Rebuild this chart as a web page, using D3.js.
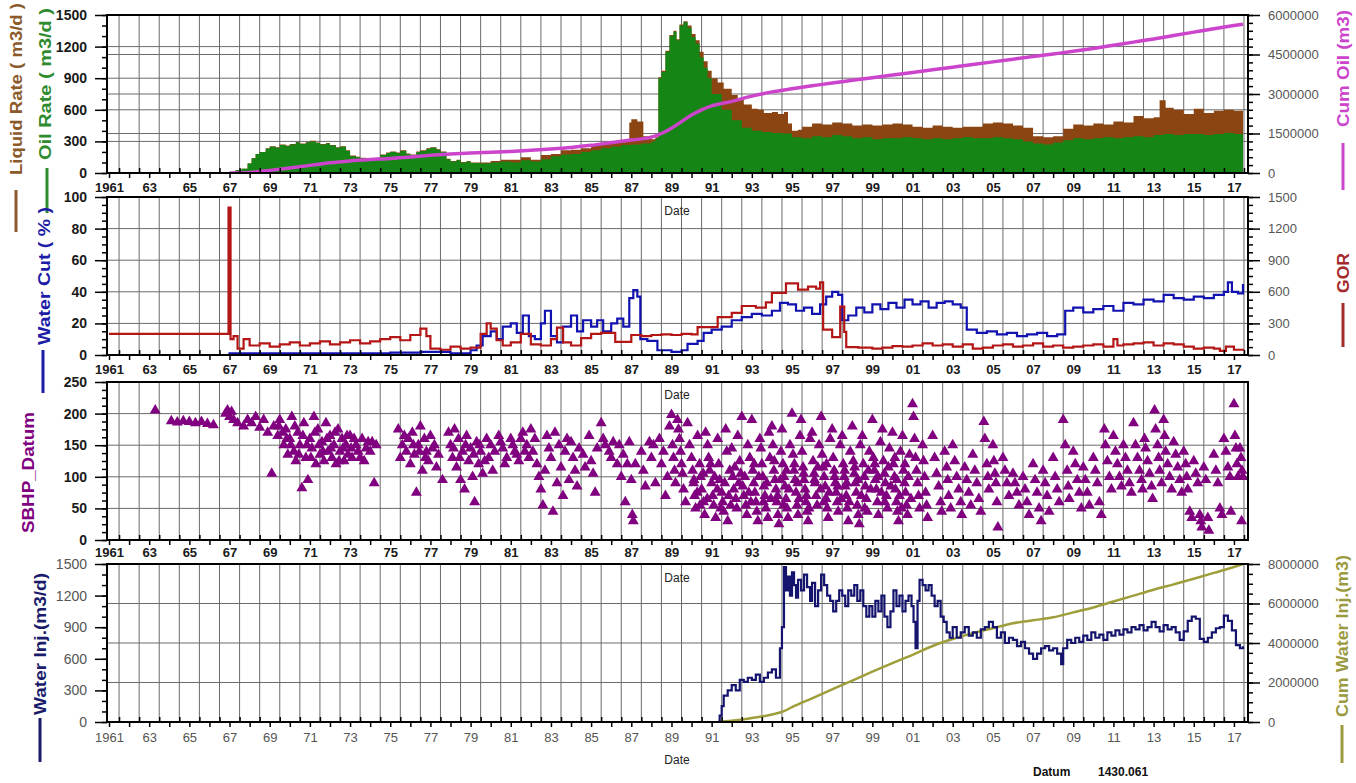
<!DOCTYPE html>
<html>
<head>
<meta charset="utf-8">
<script src="https://cdn.jsdelivr.net/npm/d3@7"></script>
<style>
  body { margin: 0; background: #fff; }
  svg { display: block; }
  text { font-family: "Liberation Sans", Arial, sans-serif; }
</style>
</head>
<body>
<svg id="chart" width="1356" height="783"></svg>
<script>
// ---------- data: [decimal year, value] ----------
const liquidRate = [
  [1966.9,0],[1967.0,10],[1967.3,25],[1967.6,40],[1967.9,90],[1968.1,140],[1968.3,180],[1968.5,200],[1968.8,235],
  [1969.0,255],[1969.3,245],[1969.5,270],[1969.8,260],[1970.0,275],[1970.3,295],[1970.5,280],[1970.8,295],
  [1971.0,305],[1971.3,290],[1971.5,275],[1971.8,285],[1972.0,265],[1972.3,245],[1972.5,255],[1972.8,215],
  [1973.0,165],[1973.3,155],[1973.5,145],[1973.8,135],[1974.0,125],[1974.3,145],[1974.5,175],[1974.8,195],
  [1975.0,205],[1975.3,195],[1975.5,215],[1975.8,185],[1976.0,175],[1976.3,205],[1976.5,215],[1976.8,235],
  [1977.0,245],[1977.3,225],[1977.5,205],[1977.8,135],[1978.0,115],[1978.3,125],[1978.5,105],[1978.8,115],
  [1979.0,100],[1979.5,100],[1980.0,115],[1980.5,125],[1981.0,125],[1981.5,150],[1982.0,125],[1982.5,170],
  [1983.0,180],[1983.5,215],[1984.0,220],[1984.5,235],[1985.0,260],[1985.5,285],[1986.0,300],[1986.5,310],
  [1986.9,480],[1987.0,510],[1987.3,490],[1987.6,350],[1988.0,320],[1988.2,340],[1988.35,910],[1988.5,970],
  [1988.7,1160],[1988.9,1310],[1989.1,1350],[1989.25,1270],[1989.4,1410],[1989.6,1440],[1989.8,1400],
  [1990.0,1320],[1990.2,1260],[1990.4,1150],[1990.6,1060],[1990.8,970],[1991.0,900],[1991.3,860],[1991.6,800],
  [1992.0,740],[1992.3,700],[1992.6,650],[1993.0,610],[1993.3,600],[1993.6,570],[1994.0,580],[1994.3,560],
  [1994.6,580],[1994.8,470],[1995.0,400],[1995.3,410],[1995.5,440],[1996.0,470],[1996.5,460],[1997.0,480],
  [1997.5,470],[1998.0,450],[1998.5,460],[1999.0,450],[1999.5,460],[2000.0,470],[2000.5,460],[2001.0,440],
  [2001.5,430],[2002.0,450],[2002.5,440],[2003.0,430],[2003.5,440],[2004.0,440],[2004.5,470],[2005.0,480],
  [2005.5,470],[2006.0,450],[2006.5,430],[2007.0,350],[2007.5,340],[2008.0,350],[2008.5,420],[2009.0,460],
  [2009.5,450],[2010.0,470],[2010.5,460],[2011.0,490],[2011.5,480],[2012.0,540],[2012.5,520],[2013.0,530],
  [2013.3,690],[2013.6,620],[2014.0,600],[2014.5,560],[2015.0,610],[2015.5,570],[2016.0,590],[2016.5,600],
  [2017.0,590],[2017.45,580]
];
const oilRate = [
  [1966.9,0],[1967.0,10],[1967.3,25],[1967.6,40],[1967.9,90],[1968.1,140],[1968.3,180],[1968.5,200],[1968.8,230],
  [1969.0,250],[1969.3,240],[1969.5,265],[1969.8,255],[1970.0,270],[1970.3,290],[1970.5,275],[1970.8,290],
  [1971.0,300],[1971.3,285],[1971.5,270],[1971.8,280],[1972.0,260],[1972.3,240],[1972.5,250],[1972.8,210],
  [1973.0,160],[1973.3,150],[1973.5,140],[1973.8,130],[1974.0,120],[1974.3,140],[1974.5,170],[1974.8,190],
  [1975.0,200],[1975.3,190],[1975.5,210],[1975.8,180],[1976.0,170],[1976.3,200],[1976.5,210],[1976.8,230],
  [1977.0,240],[1977.3,220],[1977.5,200],[1977.8,130],[1978.0,110],[1978.3,120],[1978.5,100],[1978.8,110],
  [1979.0,95],[1979.5,90],[1980.0,100],[1980.5,110],[1981.0,100],[1981.5,120],[1982.0,110],[1982.5,130],
  [1983.0,160],[1983.5,175],[1984.0,180],[1984.5,200],[1985.0,215],[1985.5,235],[1986.0,250],[1986.5,265],
  [1987.0,270],[1987.5,280],[1988.0,300],[1988.2,330],[1988.35,900],[1988.5,960],[1988.7,1150],[1988.9,1300],
  [1989.1,1340],[1989.25,1260],[1989.4,1400],[1989.6,1430],[1989.8,1380],[1990.0,1290],[1990.2,1230],
  [1990.4,1100],[1990.6,1000],[1990.8,900],[1991.0,750],[1991.5,600],[1992.0,500],[1992.5,430],[1993.0,400],
  [1993.5,390],[1994.0,380],[1994.5,375],[1995.0,340],[1995.5,330],[1996.0,350],[1996.5,340],[1997.0,360],
  [1997.5,350],[1998.0,330],[1998.5,340],[1999.0,320],[1999.5,330],[2000.0,330],[2000.5,340],[2001.0,330],
  [2001.5,320],[2002.0,330],[2002.5,320],[2003.0,330],[2003.5,340],[2004.0,330],[2004.5,330],[2005.0,340],
  [2005.5,330],[2006.0,320],[2006.5,300],[2007.0,280],[2007.5,270],[2008.0,290],[2008.5,310],[2009.0,330],
  [2009.5,320],[2010.0,330],[2010.5,340],[2011.0,330],[2011.5,340],[2012.0,350],[2012.5,340],[2013.0,360],
  [2013.5,370],[2014.0,360],[2014.5,370],[2015.0,370],[2015.5,360],[2016.0,370],[2016.5,380],[2017.0,370],
  [2017.45,360]
];
const cumOil = [
  [1967.0,0],[1968,20000],[1969,100000],[1970,190000],[1971,290000],[1972,390000],[1973,460000],[1974,510000],
  [1975,550000],[1976,610000],[1977,670000],[1978,720000],[1979,760000],[1980,790000],[1981,820000],
  [1982,860000],[1983,910000],[1984,970000],[1985,1050000],[1986,1150000],[1987,1250000],[1988,1360000],
  [1988.5,1500000],[1989,1700000],[1989.5,1950000],[1990,2200000],[1990.5,2400000],[1991,2550000],
  [1992,2720000],[1993,2920000],[1994,3080000],[1995,3200000],[1996,3310000],[1997,3420000],[1998,3520000],
  [1999,3620000],[2000,3720000],[2001,3820000],[2002,3920000],[2003,4020000],[2004,4120000],[2005,4220000],
  [2006,4320000],[2007,4420000],[2008,4520000],[2009,4620000],[2010,4730000],[2011,4850000],[2012,4970000],
  [2013,5090000],[2014,5220000],[2015,5350000],[2016,5480000],[2017,5600000],[2017.45,5650000]
];
const waterCut = [
  [1961.0,0],[1967.0,1],[1970,1],[1975,1.5],[1976.5,2],[1978,1],[1979,3],[1979.3,6],[1979.6,12],[1980.0,15],
  [1980.3,10],[1980.6,18],[1981.0,20],[1981.3,14],[1981.6,25],[1981.9,12],[1982.2,10],[1982.5,20],[1982.7,28],
  [1983.0,12],[1983.3,8],[1983.6,18],[1984.0,25],[1984.3,15],[1984.6,22],[1985.0,18],[1985.3,22],[1985.6,15],
  [1986.0,20],[1986.3,23],[1986.6,18],[1986.9,36],[1987.1,41],[1987.3,37],[1987.45,10],[1987.8,9],[1988.3,3],
  [1989.0,2],[1989.5,3],[1989.8,7],[1990.3,9],[1990.6,14],[1991.0,16],[1991.5,18],[1992.0,22],[1992.5,24],
  [1993.0,26],[1993.5,25],[1994.0,28],[1994.4,33],[1994.8,32],[1995.2,28],[1995.6,30],[1996.0,26],[1996.4,32],
  [1996.7,37],[1997.0,40],[1997.3,38],[1997.5,22],[1997.8,25],[1998.2,30],[1998.6,27],[1999.0,32],[1999.4,29],
  [1999.8,33],[2000.2,30],[2000.6,35],[2001.0,32],[2001.4,34],[2001.8,30],[2002.2,33],[2002.6,34],[2003.0,32],
  [2003.4,30],[2003.7,16],[2004.2,14],[2004.7,15],[2005.2,13],[2005.7,14],[2006.2,12],[2006.7,13],[2007.2,14],
  [2007.7,12],[2008.2,13],[2008.6,28],[2009.0,30],[2009.5,27],[2010.0,29],[2010.5,31],[2011.0,28],[2011.5,33],
  [2012.0,32],[2012.5,35],[2013.0,34],[2013.5,38],[2014.0,36],[2014.5,35],[2015.0,37],[2015.5,36],[2016.0,38],
  [2016.5,40],[2016.7,46],[2016.9,40],[2017.2,39],[2017.45,45]
];
const gor = [
  [1961.0,200],[1966.85,200],[1966.95,1400],[1967.05,150],[1967.2,180],[1967.4,60],[1967.7,150],[1968.0,90],
  [1968.5,110],[1969,80],[1969.5,100],[1970,120],[1970.5,90],[1971,110],[1971.5,130],[1972,100],[1972.5,120],
  [1973,140],[1973.5,110],[1974,130],[1974.5,150],[1975,170],[1975.5,140],[1976,190],[1976.5,250],[1976.8,180],
  [1977.0,60],[1977.5,50],[1978,80],[1978.5,60],[1979,70],[1979.5,200],[1979.8,300],[1980.0,250],[1980.3,140],
  [1980.6,90],[1981,120],[1981.5,200],[1982,100],[1982.5,90],[1983,150],[1983.3,260],[1983.6,120],[1984,90],
  [1984.5,160],[1985,200],[1985.5,210],[1986.2,125],[1987.0,190],[1987.5,180],[1988,190],[1988.5,195],
  [1989,190],[1989.5,200],[1990,195],[1990.3,265],[1991.3,360],[1992.0,400],[1992.5,465],[1993.2,450],
  [1993.7,500],[1994.0,590],[1994.7,680],[1995.3,620],[1995.8,650],[1996.2,630],[1996.4,690],[1996.55,240],
  [1997.0,170],[1997.4,460],[1997.6,220],[1997.7,75],[1998.3,70],[1999,60],[1999.5,70],[2000,85],[2000.5,80],
  [2001,90],[2001.5,110],[2002,90],[2002.5,100],[2003,80],[2003.5,100],[2004,60],[2004.5,70],[2005,90],
  [2005.5,100],[2006,80],[2006.5,90],[2007,110],[2007.5,80],[2008,90],[2008.5,70],[2009,80],[2009.5,90],
  [2010,100],[2010.5,80],[2011,150],[2011.2,90],[2011.5,100],[2012,110],[2012.5,120],[2013,90],[2013.5,110],
  [2014,100],[2014.5,80],[2015,60],[2015.5,70],[2016,60],[2016.3,40],[2016.6,80],[2017.0,50],[2017.45,60]
];
const sbhp = [
  [1963.3,205],[1964.1,188],[1964.4,186],[1964.7,188],[1965.0,187],[1965.3,185],[1965.6,187],[1965.9,184],[1966.2,182],
  [1966.8,200],[1966.9,205],[1967.0,195],[1967.1,203],[1967.2,190],[1967.4,185],[1967.7,180],[1967.9,190],[1968.1,185],
  [1968.3,195],[1968.5,178],[1968.7,190],[1968.9,170],[1969.1,105],[1969.2,180],[1969.4,165],[1969.5,190],[1969.7,150],
  [1969.8,175],[1969.9,135],[1970.0,160],[1970.1,195],[1970.2,140],[1970.3,125],[1970.4,170],[1970.5,150],[1970.6,82],
  [1970.7,185],[1970.8,130],[1970.9,95],[1971.0,160],[1971.1,145],[1971.2,195],[1971.3,120],[1971.4,175],[1971.5,135],
  [1971.6,155],[1971.7,125],[1971.8,185],[1971.9,140],[1972.0,165],[1972.1,130],[1972.2,150],[1972.3,120],[1972.4,175],
  [1972.5,140],[1972.6,160],[1972.7,125],[1972.8,150],[1972.9,135],[1973.0,165],[1973.1,130],[1973.3,150],[1973.4,140],
  [1973.6,160],[1973.7,125],[1973.9,155],[1974.0,140],[1974.2,90],[1974.3,150],
  [1969.45,180],[1969.65,170],[1969.85,160],[1970.05,150],[1970.25,180],[1970.45,135],[1970.65,165],[1970.85,150],
  [1971.05,130],[1971.25,170],[1971.45,150],[1971.65,140],[1971.85,160],[1972.05,145],[1972.25,170],[1972.45,125],
  [1972.65,145],[1972.85,165],[1973.05,145],[1973.2,160],[1973.5,130],[1973.8,145],[1974.1,155],
  [1975.4,175],[1975.5,130],[1975.6,150],[1975.8,140],[1975.9,160],[1976.0,120],[1976.1,170],[1976.2,135],[1976.3,75],
  [1976.4,150],[1976.5,180],[1976.6,110],[1976.7,160],[1976.8,140],[1976.9,125],[1977.0,165],[1977.1,145],[1977.3,115],
  [1977.4,135],[1977.6,95],[1977.9,170],[1978.0,150],[1978.1,130],[1978.2,175],[1978.3,115],[1978.4,160],[1978.5,95],
  [1978.6,140],[1978.7,80],[1978.8,165],[1978.9,125],[1979.0,145],[1979.1,100],[1979.2,60],[1979.3,155],[1979.4,120],
  [1979.5,140],[1979.6,105],[1979.8,160],[1979.9,130],[1980.0,150],[1980.1,110],[1980.4,165],[1980.6,145],[1980.8,130],
  [1975.7,165],[1976.15,150],[1976.45,140],[1976.75,130],[1977.2,150],[1978.15,145],[1978.45,130],[1978.75,150],
  [1979.15,135],[1979.45,150],[1979.7,125],[1980.2,140],[1980.5,155],[1980.7,120],[1981.1,150],[1981.3,135],
  [1981.5,160],[1981.7,140],[1981.9,130],
  [1981.0,160],[1981.2,140],[1981.4,125],[1981.6,170],[1981.8,150],[1982.0,175],[1982.1,140],[1982.2,160],[1982.3,120],
  [1982.4,100],[1982.5,80],[1982.6,55],[1982.7,110],[1982.8,165],[1982.9,145],[1983.0,130],[1983.1,45],[1983.2,170],
  [1983.3,90],[1983.4,150],[1983.5,115],[1983.6,70],[1983.7,140],[1983.8,160],[1983.9,95],[1984.0,155],[1984.1,130],
  [1984.2,110],[1984.3,85],[1984.4,145],[1984.6,135],[1984.7,115],[1984.9,165],[1985.0,125],[1985.1,105],[1985.2,75],
  [1985.3,145],[1985.5,185],[1985.6,160],[1985.7,150],[1985.9,140],[1986.0,130],[1986.1,155],[1986.3,120],[1986.4,150],
  [1986.5,100],[1986.6,135],[1986.7,60],[1986.8,120],[1986.9,155],[1987.0,95],[1987.05,40],[1987.1,30],[1987.2,120],
  [1987.5,140],[1987.6,110],[1987.7,85],[1987.9,155],[1988.0,130],[1988.1,150],[1988.2,90],[1988.4,160],[1988.5,120],
  [1988.6,140],[1988.7,70],[1988.8,100],[1988.9,180],[1989.0,198],[1989.05,150],[1989.1,130],[1989.15,110],[1989.2,90],
  [1989.3,190],[1989.35,175],[1989.4,160],[1989.45,140],[1989.5,120],[1989.55,105],[1989.6,80],[1989.7,60],
  [1989.8,185],[1989.9,150],[1990.0,130],[1990.05,110],[1990.1,90],[1990.15,70],[1990.2,50],[1990.3,165],[1990.4,120],
  [1990.45,100],[1990.5,80],[1990.6,60],[1990.65,40],[1990.7,170],[1990.8,150],[1990.85,130],[1990.9,110],[1991.0,90],
  [1991.05,70],[1991.1,55],[1991.2,35],[1991.3,160],[1991.35,120],[1991.4,95],[1991.5,75],[1991.55,60],[1991.6,45],
  [1991.7,175],[1991.75,140],[1991.8,30],[1991.9,110],[1992.0,145],[1992.05,100],[1992.1,80],[1992.2,65],[1992.25,50],
  [1992.3,165],[1992.4,125],[1992.45,105],[1992.5,195],[1992.55,85],[1992.6,70],[1992.7,55],[1992.75,40],[1992.8,150],
  [1992.9,130],[1993.0,190],[1993.05,110],[1993.1,90],[1993.15,75],[1993.2,60],[1993.25,45],[1993.3,30],[1993.4,160],
  [1993.45,145],[1993.5,120],[1993.55,100],[1993.6,85],[1993.65,70],[1993.7,50],[1993.8,35],[1993.85,170],[1993.9,130],
  [1994.0,180],[1994.05,150],[1994.1,110],[1994.15,95],[1994.2,80],[1994.25,60],[1994.3,40],[1994.35,25],[1994.45,140],
  [1994.5,175],[1994.55,120],[1994.6,100],[1994.65,85],[1994.7,65],[1994.75,50],[1994.8,35],[1994.9,150],[1995.0,200],
  [1995.05,135],[1995.1,110],[1995.15,95],[1995.2,75],[1995.25,55],[1995.3,40],[1995.4,165],[1995.45,190],[1995.5,140],
  [1995.55,115],[1995.6,95],[1995.65,80],[1995.7,60],[1995.75,45],[1995.8,30],[1995.9,160],[1996.0,170],[1996.05,125],
  [1996.1,105],[1996.15,90],[1996.2,70],[1996.25,55],[1996.35,150],[1996.45,195],[1996.5,135],[1996.55,115],[1996.6,100],
  [1996.65,85],[1996.7,65],[1996.75,50],[1996.8,35],[1996.9,160],[1997.0,175],[1997.05,130],[1997.1,110],[1997.15,90],
  [1997.2,75],[1997.25,60],[1997.3,45],[1997.4,150],[1997.5,165],[1997.55,120],[1997.6,100],[1997.65,85],[1997.7,70],
  [1997.75,50],[1997.8,30],[1997.9,140],[1998.0,180],[1998.05,125],[1998.1,105],[1998.15,90],[1998.2,75],[1998.25,55],
  [1998.3,40],[1998.35,25],[1998.4,150],[1998.5,165],[1998.55,120],[1998.6,100],[1998.65,85],[1998.7,65],[1998.75,45],
  [1998.85,140],[1999.0,190],[1999.05,130],[1999.1,110],[1999.15,95],[1999.2,80],[1999.25,60],[1999.3,40],[1999.4,155],
  [1999.5,175],[1999.55,125],[1999.6,105],[1999.65,90],[1999.7,70],[1999.75,50],[1999.85,145],[2000.0,170],[2000.05,120],
  [2000.1,100],[2000.15,80],[2000.2,60],[2000.25,45],[2000.3,30],[2000.4,140],[2000.5,165],[2000.55,110],[2000.6,90],
  [2000.65,75],[2000.7,55],[2000.75,40],[2000.85,135],
  [1990.12,95],[1990.28,75],[1990.42,55],[1990.58,105],[1990.78,65],[1990.95,120],[1991.15,100],[1991.28,80],
  [1991.45,50],[1991.65,90],[1991.85,70],[1991.95,55],[1992.15,115],[1992.35,90],[1992.65,100],[1992.85,75],
  [1992.95,60],[1993.12,120],[1993.35,100],[1993.58,60],[1993.75,90],[1993.95,65],[1994.12,125],[1994.28,70],
  [1994.42,95],[1994.58,55],[1994.72,110],[1994.85,80],[1995.12,120],[1995.28,90],[1995.35,65],[1995.58,105],
  [1995.72,70],[1995.85,50],[1996.12,95],[1996.28,115],[1996.42,80],[1996.58,60],[1996.72,120],[1996.85,75],
  [1997.12,100],[1997.28,85],[1997.45,65],[1997.62,110],[1997.72,90],[1997.85,60],[1998.12,115],[1998.28,95],
  [1998.45,70],[1998.62,50],[1998.8,110],[1998.92,80],[1999.12,120],[1999.28,100],[1999.45,75],[1999.62,60],
  [1999.8,115],[1999.92,85],[2000.12,130],[2000.22,95],[2000.35,70],[2000.45,50],[2000.62,120],[2000.8,100],
  [2000.92,65],
  [2001.0,215],[2001.05,195],[2001.1,160],[2001.15,130],[2001.2,110],[2001.25,90],[2001.3,70],[2001.35,50],[2001.5,150],
  [2001.55,125],[2001.6,100],[2001.65,75],[2001.7,55],[2001.75,35],[2002.0,165],[2002.1,130],[2002.2,105],[2002.3,85],
  [2002.4,60],[2002.45,45],[2002.6,140],[2002.7,115],[2002.75,95],[2002.8,70],[2002.9,50],[2003.0,150],[2003.1,125],
  [2003.2,100],[2003.3,80],[2003.4,60],[2003.45,40],[2003.6,115],[2003.7,95],[2003.8,75],[2003.9,55],[2004.0,135],
  [2004.1,110],[2004.2,90],[2004.3,65],[2004.4,45],[2004.55,187],[2004.6,160],[2004.7,120],[2004.75,100],[2004.8,80],
  [2005.0,150],[2005.05,125],[2005.1,105],[2005.15,90],[2005.2,60],[2005.25,20],[2005.5,130],[2005.6,110],[2005.7,90],
  [2005.8,70],[2006.0,105],[2006.1,90],[2006.2,75],[2006.3,55],[2006.5,100],[2006.6,80],[2006.7,60],[2006.8,40],
  [2007.0,120],[2007.1,95],[2007.2,75],[2007.3,50],[2007.4,30],[2007.5,110],[2007.6,90],[2007.7,70],[2007.8,45],
  [2008.0,130],[2008.1,100],[2008.2,80],[2008.3,60],[2008.5,190],[2008.6,150],[2008.7,110],[2008.75,85],[2008.8,65],
  [2009.0,140],[2009.1,120],[2009.2,95],[2009.3,75],[2009.4,50],[2009.5,115],[2009.6,95],[2009.7,75],[2009.8,55],
  [2010.0,130],[2010.1,110],[2010.2,90],[2010.3,60],[2010.4,40],[2010.55,175],[2010.6,150],[2010.7,125],[2010.8,100],
  [2010.9,80],[2011.0,165],[2011.1,140],[2011.2,120],[2011.3,100],[2011.4,85],[2011.5,150],[2011.6,130],[2011.7,110],
  [2011.8,90],[2011.9,75],[2012.0,185],[2012.1,150],[2012.2,130],[2012.3,110],[2012.4,95],[2012.45,80],[2012.55,160],
  [2012.6,145],[2012.7,125],[2012.8,105],[2012.9,85],[2012.95,65],[2013.05,205],[2013.1,175],[2013.2,150],[2013.25,130],
  [2013.3,110],[2013.4,90],[2013.5,190],[2013.55,165],[2013.6,140],[2013.7,120],[2013.8,100],[2013.9,80],[2014.0,155],
  [2014.1,135],[2014.2,115],[2014.3,95],[2014.4,75],[2014.5,140],[2014.6,120],[2014.65,100],[2014.7,80],[2014.8,45],
  [2014.9,35],[2015.0,125],[2015.1,105],[2015.2,90],[2015.3,40],[2015.35,30],[2015.4,20],[2015.5,115],[2015.6,95],
  [2015.7,35],[2015.75,15],[2016.0,135],[2016.1,110],[2016.2,90],[2016.3,50],[2016.4,40],[2016.5,160],[2016.6,140],
  [2016.7,115],[2016.8,100],[2016.85,45],[2017.0,215],[2017.05,165],[2017.1,145],[2017.15,120],[2017.2,100],
  [2017.3,145],[2017.35,130],[2017.38,30],[2017.4,110],[2017.45,100]
];
const waterInj = [
  [1991.3,0],[1991.4,60],[1991.5,150],[1991.6,250],[1991.8,300],[1992.0,350],[1992.2,300],[1992.4,400],[1992.6,380],
  [1992.8,420],[1993.0,400],[1993.2,450],[1993.4,380],[1993.6,420],[1993.8,470],[1994.0,500],[1994.2,420],[1994.4,700],
  [1994.5,900],[1994.6,1470],[1994.7,1250],[1994.8,1380],[1994.9,1200],[1995.0,1420],[1995.1,1300],[1995.2,1180],
  [1995.3,1350],[1995.45,1250],[1995.6,1400],[1995.75,1280],[1995.9,1150],[1996.0,1320],[1996.15,1100],[1996.3,1250],
  [1996.45,1400],[1996.6,1300],[1996.75,1200],[1996.9,1150],[1997.05,1050],[1997.2,1150],[1997.35,1250],[1997.5,1200],
  [1997.65,1100],[1997.8,1250],[1997.95,1200],[1998.1,1300],[1998.25,1150],[1998.4,1250],[1998.55,1100],[1998.7,1000],
  [1998.85,1100],[1999.0,1000],[1999.15,1150],[1999.3,1050],[1999.45,1200],[1999.6,1000],[1999.75,900],[1999.9,1050],
  [2000.05,1250],[2000.2,1100],[2000.35,1200],[2000.5,1050],[2000.65,1150],[2000.8,1200],[2000.95,1100],[2001.05,950],
  [2001.15,700],[2001.25,1150],[2001.35,1350],[2001.5,1300],[2001.65,1250],[2001.8,1300],[2001.95,1200],[2002.1,1100],
  [2002.25,1150],[2002.4,1000],[2002.55,950],[2002.7,850],[2002.85,800],[2003.0,900],[2003.2,800],[2003.4,850],
  [2003.6,900],[2003.8,820],[2004.0,850],[2004.2,800],[2004.4,880],[2004.6,900],[2004.8,950],[2005.0,900],[2005.2,800],
  [2005.4,850],[2005.6,750],[2005.8,800],[2006.0,780],[2006.2,720],[2006.4,760],[2006.6,700],[2006.8,650],[2007.0,600],
  [2007.2,650],[2007.4,700],[2007.6,720],[2007.8,680],[2008.0,700],[2008.2,650],[2008.4,550],[2008.5,700],[2008.7,780],
  [2008.9,750],[2009.1,800],[2009.3,760],[2009.5,820],[2009.7,780],[2009.9,850],[2010.1,800],[2010.3,830],[2010.5,780],
  [2010.7,850],[2010.9,820],[2011.1,870],[2011.3,830],[2011.5,880],[2011.7,850],[2011.9,900],[2012.1,880],[2012.3,920],
  [2012.5,870],[2012.7,900],[2012.9,950],[2013.1,900],[2013.3,860],[2013.5,920],[2013.7,880],[2013.9,900],[2014.1,850],
  [2014.3,780],[2014.5,860],[2014.7,960],[2014.9,1000],[2015.1,980],[2015.3,790],[2015.5,760],[2015.7,800],[2015.9,850],
  [2016.1,890],[2016.3,900],[2016.5,1010],[2016.7,960],[2016.9,870],[2017.1,730],[2017.3,700],[2017.45,720]
];
const cumWaterInj = [
  [1991.3,0],[1992,60000],[1993,200000],[1994,380000],[1994.6,550000],[1995,750000],[1996,1200000],[1997,1650000],
  [1998,2100000],[1999,2550000],[2000,2980000],[2001,3400000],[2002,3850000],[2003,4200000],[2004,4500000],
  [2005,4750000],[2006,5000000],[2007,5150000],[2008,5300000],[2009,5550000],[2010,5800000],[2011,6100000],
  [2012,6400000],[2013,6700000],[2014,6970000],[2015,7250000],[2016,7550000],[2017,7850000],[2017.45,8000000]
];
const labelYears = d3.range(1961, 2018, 2);
const rateTicks = [0, 300, 600, 900, 1200, 1500];
const cumOilTicks = [0, 1500000, 3000000, 4500000, 6000000];
const waterCutTicks = [0, 20, 40, 60, 80, 100];
const gorTicks = [0, 300, 600, 900, 1200, 1500];
const sbhpTicks = [0, 50, 100, 150, 200, 250];
const cumInjTicks = [0, 2000000, 4000000, 6000000, 8000000];

// ---------- layout ----------
const svg = d3.select("#chart");
const X0 = 107, X1 = 1248;
const x = d3.scaleLinear().domain([1960.9, 2017.7]).range([X0, X1]);
const P = [
  { top: 15, bottom: 173 },
  { top: 197, bottom: 355 },
  { top: 382, bottom: 540 },
  { top: 564, bottom: 722 }
];
const GRID = "#6a6a6a";
const C = {
  liquid: "#8b4513", liquidT: "#8b5a2b",
  oil: "#158515", oilT: "#2e8b2e",
  cumOil: "#cc44cc",
  wc: "#1212b0", wcT: "#1c1ca6",
  gor: "#b41616", gorT: "#a52a2a",
  sbhp: "#800080",
  inj: "#14146e", injT: "#1b1b6b",
  cumInj: "#9e9e3a", cumInjT: "#9a9a40"
};

P.forEach((p, i) => {
  p.g = svg.append("g");
  svg.append("clipPath").attr("id", "clip" + i)
    .append("rect").attr("x", X0).attr("y", p.top).attr("width", X1 - X0).attr("height", p.bottom - p.top);
});

function yScale(p, max) { return d3.scaleLinear().domain([0, max]).range([p.bottom, p.top]); }

function grid(p, yVals) {
  const g = p.g.append("g");
  d3.range(1961.5, 2017.6, 1).forEach(v => {
    g.append("line").attr("x1", x(v)).attr("x2", x(v)).attr("y1", p.top).attr("y2", p.bottom)
      .attr("stroke", GRID).attr("stroke-width", 1);
  });
  yVals.forEach(v => {
    g.append("line").attr("x1", X0).attr("x2", X1).attr("y1", v).attr("y2", v)
      .attr("stroke", GRID).attr("stroke-width", 1);
  });
}

function frame(p) {
  p.g.append("rect").attr("x", X0).attr("y", p.top).attr("width", X1 - X0).attr("height", p.bottom - p.top)
    .attr("fill", "none").attr("stroke", "#000").attr("stroke-width", 2);
}

function styleAxis(g, color, weight, size) {
  g.select(".domain").remove();
  g.selectAll("line").attr("stroke", "#000").attr("stroke-width", 1.5);
  g.selectAll("text").attr("fill", color).attr("font-weight", weight).attr("font-size", size);
}

function leftAxis(p, y, majors, minorStep, color, weight) {
  const minors = d3.range(0, y.domain()[1] + 1e-6, minorStep);
  styleAxis(p.g.append("g").attr("transform", `translate(${X0},0)`)
    .call(d3.axisLeft(y).tickValues(minors).tickSize(5).tickFormat("")), color, weight, 14);
  styleAxis(p.g.append("g").attr("transform", `translate(${X0},0)`)
    .call(d3.axisLeft(y).tickValues(majors).tickSize(12).tickPadding(8).tickFormat(d3.format("d"))), color, weight, 14);
}

function rightAxis(p, y, majors, minorStep, color) {
  const minors = d3.range(0, y.domain()[1] + 1, minorStep);
  styleAxis(p.g.append("g").attr("transform", `translate(${X1},0)`)
    .call(d3.axisRight(y).tickValues(minors).tickSize(5).tickFormat("")), color, "normal", 13);
  styleAxis(p.g.append("g").attr("transform", `translate(${X1},0)`)
    .call(d3.axisRight(y).tickValues(majors).tickSize(12).tickPadding(8).tickFormat(d3.format("d"))), color, "normal", 13);
}

function bottomAxis(p, color, weight, pad, dateY) {
  styleAxis(p.g.append("g").attr("transform", `translate(0,${p.bottom})`)
    .call(d3.axisBottom(x).tickValues(d3.range(1961, 2018, 1)).tickSize(5).tickFormat("")), color, weight, 13);
  styleAxis(p.g.append("g").attr("transform", `translate(0,${p.bottom})`)
    .call(d3.axisBottom(x).tickValues(d3.range(1961.5, 2017.6, 1)).tickSize(-5).tickFormat("")), color, weight, 13);
  styleAxis(p.g.append("g").attr("transform", `translate(0,${p.bottom})`)
    .call(d3.axisBottom(x).tickValues(labelYears).tickSize(0).tickPadding(pad)
      .tickFormat(v => v === 1961 ? "1961" : String(v % 100).padStart(2, "0"))), color, weight, 13);
  svg.append("text").attr("x", 677).attr("y", dateY).attr("text-anchor", "middle")
    .attr("font-size", 12).attr("fill", "#222").text("Date");
}

function vTitle(text, cx, yBottom, yTop, color, leg) {
  svg.append("text")
    .attr("transform", `translate(${cx},${yBottom}) rotate(-90)`)
    .attr("text-anchor", "start").attr("dominant-baseline", "central")
    .attr("font-size", 16).attr("font-weight", "bold").attr("fill", color)
    .attr("textLength", yBottom - yTop).attr("lengthAdjust", "spacingAndGlyphs")
    .text(text);
  if (leg) {
    svg.append("line").attr("x1", leg[0]).attr("x2", leg[0]).attr("y1", leg[1]).attr("y2", leg[2])
      .attr("stroke", color).attr("stroke-width", 3);
  }
}

const stepLine = (y) => d3.line().curve(d3.curveStepAfter).x(d => x(d[0])).y(d => y(d[1]));
const stepArea = (y) => d3.area().curve(d3.curveStepAfter).x(d => x(d[0])).y0(y(0)).y1(d => y(d[1]));
const smoothLine = (y) => d3.line().curve(d3.curveMonotoneX).x(d => x(d[0])).y(d => y(d[1]));

// ---------- panel 1: rates and cumulative oil ----------
{
  const p = P[0];
  const yL = yScale(p, 1500), yR = yScale(p, 6000000);
  grid(p, [...rateTicks.slice(1, 5).map(yL), ...cumOilTicks.slice(1, 4).map(yR)]);
  const d = p.g.append("g").attr("clip-path", "url(#clip0)");
  d.append("path").datum(liquidRate).attr("d", stepArea(yL)).attr("fill", C.liquid);
  d.append("path").datum(oilRate).attr("d", stepArea(yL)).attr("fill", C.oil);
  d.append("path").datum(cumOil).attr("d", smoothLine(yR)).attr("fill", "none")
    .attr("stroke", C.cumOil).attr("stroke-width", 3.5);
  frame(p);
  leftAxis(p, yL, rateTicks, 100, "#1a1a1a", "bold");
  rightAxis(p, yR, cumOilTicks, 300000, "#555");
  bottomAxis(p, "#1a1a1a", "bold", 10, 215);
}

// ---------- panel 2: water cut and GOR ----------
{
  const p = P[1];
  const yL = yScale(p, 100), yR = yScale(p, 1500);
  grid(p, waterCutTicks.slice(1, 5).map(yL));
  const d = p.g.append("g").attr("clip-path", "url(#clip1)");
  d.append("path").datum(waterCut).attr("d", stepLine(yL)).attr("fill", "none")
    .attr("stroke", C.wc).attr("stroke-width", 2.2);
  d.append("path").datum(gor).attr("d", stepLine(yR)).attr("fill", "none")
    .attr("stroke", C.gor).attr("stroke-width", 2.2);
  frame(p);
  leftAxis(p, yL, waterCutTicks, 5, "#1a1a1a", "bold");
  rightAxis(p, yR, gorTicks, 75, "#555");
  bottomAxis(p, "#1a1a1a", "bold", 10, 399);
}

// ---------- panel 3: SBHP at datum ----------
{
  const p = P[2];
  const y = yScale(p, 250);
  grid(p, sbhpTicks.slice(1, 5).map(y));
  const d = p.g.append("g").attr("clip-path", "url(#clip2)");
  const tri = d3.symbol(d3.symbolTriangle, 52);
  d.selectAll("path.pt").data(sbhp).join("path").attr("class", "pt")
    .attr("transform", v => `translate(${x(v[0])},${y(v[1])})`)
    .attr("d", tri).attr("fill", C.sbhp);
  frame(p);
  leftAxis(p, y, sbhpTicks, 12.5, "#1a1a1a", "bold");
  bottomAxis(p, "#1a1a1a", "bold", 8, 582);
}

// ---------- panel 4: water injection ----------
{
  const p = P[3];
  const yL = yScale(p, 1500), yR = yScale(p, 8000000);
  grid(p, cumInjTicks.slice(1, 4).map(yR));
  const d = p.g.append("g").attr("clip-path", "url(#clip3)");
  d.append("path").datum(cumWaterInj).attr("d", smoothLine(yR)).attr("fill", "none")
    .attr("stroke", C.cumInj).attr("stroke-width", 2.5);
  d.append("path").datum(waterInj).attr("d", stepLine(yL)).attr("fill", "none")
    .attr("stroke", C.inj).attr("stroke-width", 2.2);
  frame(p);
  leftAxis(p, yL, rateTicks, 100, "#555", "normal");
  rightAxis(p, yR, cumInjTicks, 500000, "#555");
  bottomAxis(p, "#555", "normal", 11, 764);
}

// ---------- axis titles ----------
vTitle("Liquid Rate ( m3/d )", 16, 175, 3, C.liquidT, [16, 190, 232]);
vTitle("Oil Rate ( m3/d )", 45, 160, 8, C.oilT, [47, 168, 213]);
vTitle("Water Cut ( % )", 44, 345, 207, C.wcT, [43, 350, 393]);
vTitle("SBHP_Datum", 28, 533, 412, C.sbhp, null);
vTitle("Water Inj.(m3/d)", 40, 715, 573, C.injT, [40, 718, 762]);
vTitle("Cum Oil (m3)", 1343, 127, 10, C.cumOil, [1343, 143, 190]);
vTitle("GOR", 1343, 293, 253, C.gorT, [1343, 303, 347]);
vTitle("Cum Water Inj.(m3)", 1342, 717, 555, C.cumInjT, [1342, 725, 763]);

svg.append("text").attr("x", 1033).attr("y", 776).attr("font-size", 12).attr("font-weight", "bold")
  .attr("fill", "#111").text("Datum");
svg.append("text").attr("x", 1098).attr("y", 776).attr("font-size", 12).attr("font-weight", "bold")
  .attr("fill", "#111").text("1430.061");
</script>
</body>
</html>
